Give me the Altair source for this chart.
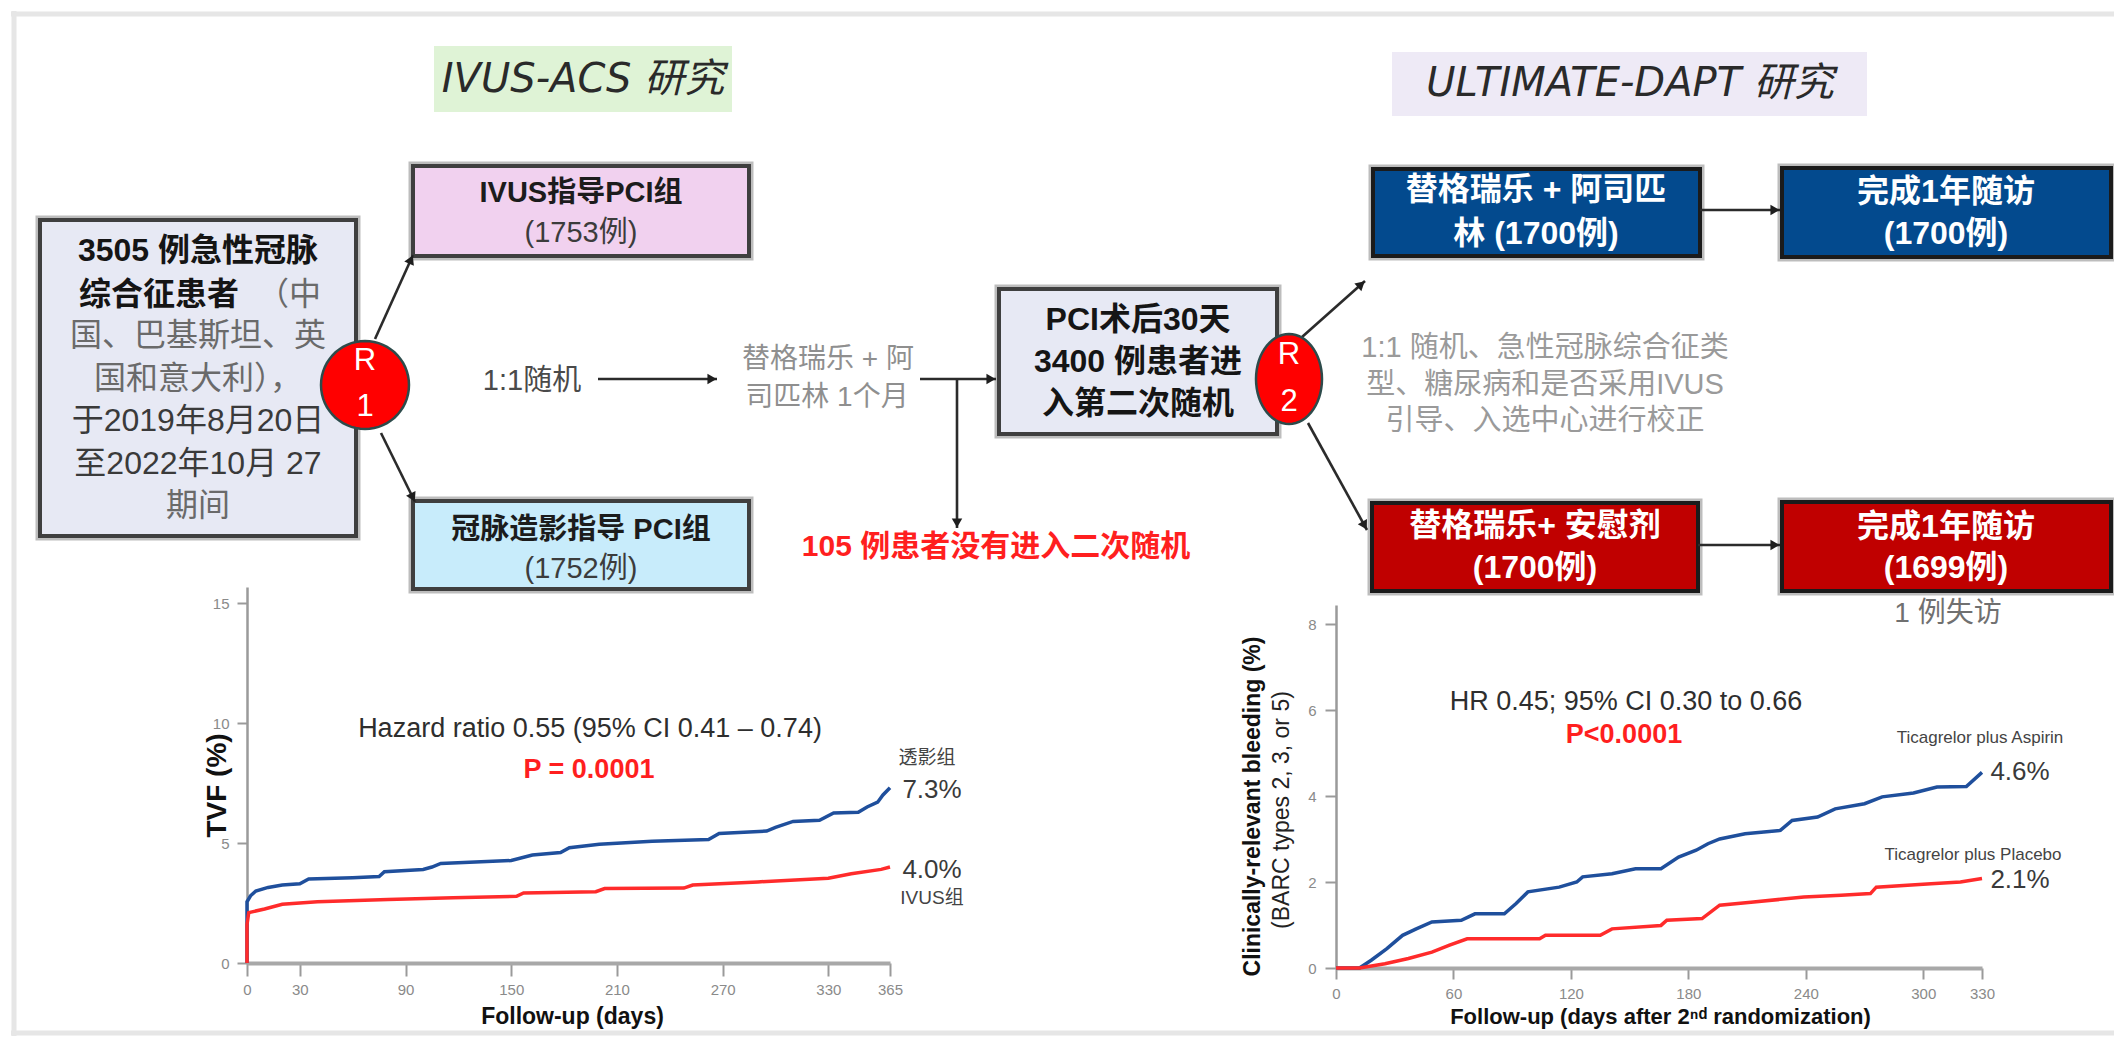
import math
import altair as alt
import pandas as pd

W, H, M = 2106, 1028, 8  # chart size, page margin

# ---------------- data: IVUS-ACS (TVF %, days) ----------------
ang_days = [0, 0, 2, 5, 12, 20, 30, 35, 60, 75, 78, 100, 105, 110, 150, 162, 178, 183, 200, 230,
            262, 268, 295, 300, 310, 325, 333, 347, 352, 358, 361, 365]
ang_tvf = [0, 2.55, 2.8, 3.0, 3.15, 3.25, 3.3, 3.5, 3.55, 3.6, 3.8, 3.9, 4.0, 4.15, 4.27, 4.5, 4.6, 4.8, 4.95, 5.07,
           5.15, 5.4, 5.5, 5.65, 5.9, 5.95, 6.25, 6.28, 6.5, 6.7, 7.0, 7.3]
ivus_days = [0, 0, 1, 10, 20, 40, 80, 117, 153, 157, 198, 203, 248, 253, 290, 330, 343, 360, 365]
ivus_tvf = [0, 1.6, 2.1, 2.25, 2.45, 2.55, 2.65, 2.72, 2.78, 2.92, 2.97, 3.1, 3.12, 3.25, 3.38, 3.53, 3.72, 3.9, 4.0]
ivus_xticks = [0, 30, 90, 150, 210, 270, 330, 365]
ivus_yticks = [0, 5, 10, 15]

# ---------------- data: ULTIMATE-DAPT (bleeding %, days) ----------------
asp_days = [0, 12, 18, 26, 34, 41, 49, 64, 71, 86, 92, 98, 114, 123, 126, 141, 153, 166, 175, 184,
            190, 196, 209, 227, 233, 246, 255, 270, 279, 295, 307, 322, 330]
asp_bleed = [0, 0, 0.18, 0.45, 0.76, 0.91, 1.07, 1.11, 1.26, 1.26, 1.5, 1.77, 1.88, 2.0, 2.12, 2.19, 2.31, 2.31, 2.58, 2.74,
             2.89, 3.0, 3.12, 3.2, 3.43, 3.51, 3.7, 3.82, 3.98, 4.07, 4.21, 4.22, 4.55]
plc_days = [0, 12, 25, 37, 49, 58, 67, 104, 107, 135, 141, 166, 169, 187, 196, 212, 239, 258, 273, 276, 304, 319, 330]
plc_bleed = [0, 0, 0.1, 0.22, 0.37, 0.53, 0.68, 0.68, 0.76, 0.76, 0.91, 0.99, 1.11, 1.15, 1.46, 1.53, 1.65, 1.69, 1.73, 1.88,
             1.96, 2.0, 2.08]
dapt_xticks = [0, 60, 120, 180, 240, 300, 330]
dapt_yticks = [0, 2, 4, 6, 8]

# ---------------- fonts / helpers ----------------
SANS = "Liberation Sans, Noto Sans CJK SC, sans-serif"
TITLEF = "DejaVu Sans, Noto Sans CJK SC, sans-serif"


def sx():
    return alt.Scale(domain=[0, 2122], range=[-M, 2122 - M], nice=False, zero=False)


def sy():
    return alt.Scale(domain=[0, 1044], range=[-M, 1044 - M], nice=False, zero=False)


def PX(f):
    return alt.X(f, type="quantitative", scale=sx(), axis=None)


def PY(f):
    return alt.Y(f, type="quantitative", scale=sy(), axis=None)


def texts(rows, size, color, weight="normal", align="center", angle=0, font=SANS, style="normal"):
    df = pd.DataFrame(rows, columns=["x", "y", "t"])
    return alt.Chart(df).mark_text(font=font, fontSize=size, fontWeight=weight, fontStyle=style,
                                   color=color, align=align, baseline="middle", angle=angle).encode(
        x=PX("x"), y=PY("y"), text="t:N")


def rules(rows, color, width):
    df = pd.DataFrame(rows, columns=["x", "y", "x2", "y2"])
    return alt.Chart(df).mark_rule(color=color, strokeWidth=width).encode(
        x=PX("x"), y=PY("y"), x2="x2", y2="y2")


layers = []

# page frame
layers.append(rules([(11, 14, 2122, 14), (14, 11, 14, 1044), (11, 1033, 2122, 1033)], "#e6e6e6", 5))

# title backgrounds
tb = pd.DataFrame([(434, 46, 732, 112, "#dff3d6"), (1392, 52, 1867, 116, "#eeeaf6")],
                  columns=["x", "y", "x2", "y2", "fill"])
layers.append(alt.Chart(tb).mark_rect().encode(x=PX("x"), y=PY("y"), x2="x2", y2="y2",
                                               fill=alt.Fill("fill:N", scale=None)))

# boxes
boxes = pd.DataFrame([
    (40, 220, 356, 536, "#e7e9f4", "#3f3f3f"),
    (413, 166, 749, 256, "#f1d1ef", "#3f3f3f"),
    (413, 501, 749, 589, "#c8ecfb", "#3f3f3f"),
    (999, 289, 1277, 434, "#e7e9f4", "#3f3f3f"),
    (1373, 169, 1700, 256, "#034a8e", "#1b1b1b"),
    (1782, 168, 2111, 257, "#034a8e", "#1b1b1b"),
    (1372, 503, 1698, 591, "#c00000", "#1b1b1b"),
    (1782, 502, 2111, 591, "#c00000", "#1b1b1b"),
], columns=["x", "y", "x2", "y2", "fill", "stroke"])
layers.append(alt.Chart(boxes).mark_rect(stroke="#bdbdbd", strokeWidth=9).encode(
    x=PX("x"), y=PY("y"), x2="x2", y2="y2", fill=alt.Fill("fill:N", scale=None)))
layers.append(alt.Chart(boxes).mark_rect(strokeWidth=4).encode(
    x=PX("x"), y=PY("y"), x2="x2", y2="y2", fill=alt.Fill("fill:N", scale=None),
    stroke=alt.Stroke("stroke:N", scale=None)))

# connector lines and arrows
arrows = [(375, 339, 413, 255), (381, 433, 415, 502), (598, 379, 717, 379), (920, 379, 996, 379),
          (957, 379, 957, 528), (1302, 337, 1365, 281), (1308, 423, 1367, 530),
          (1700, 210, 1780, 210), (1698, 545, 1780, 545)]
layers.append(rules(arrows, "#2b2b2b", 2.6))
heads = []
for x1, y1, x2, y2 in arrows:
    dx, dy = x2 - x1, y2 - y1
    L = math.hypot(dx, dy)
    heads.append((x2 - 5 * dx / L, y2 - 5 * dy / L, math.degrees(math.atan2(dx, -dy)) % 360))
hd = pd.DataFrame(heads, columns=["x", "y", "a"])
layers.append(alt.Chart(hd).mark_point(shape="triangle-up", filled=True, color="#1e1e1e", size=110, opacity=1).encode(
    x=PX("x"), y=PY("y"), angle=alt.Angle("a:Q", scale=None)))


# randomisation ellipses
def ellipse_path(rx):
    pts = [(rx * math.cos(2 * math.pi * i / 60), math.sin(2 * math.pi * i / 60)) for i in range(60)]
    return "M" + " L".join(f"{a:.4f},{b:.4f}" for a, b in pts) + " Z"


ell = pd.DataFrame([(365, 385, ellipse_path(1.0), 88 ** 2), (1289, 379, ellipse_path(33 / 45), 90 ** 2)],
                   columns=["x", "y", "shape", "size"])
layers.append(alt.Chart(ell).mark_point(filled=True, fill="#ff0000", stroke="#2d4b4b", strokeWidth=2.5, opacity=1).encode(
    x=PX("x"), y=PY("y"), shape=alt.Shape("shape:N", scale=None), size=alt.Size("size:Q", scale=None)))
layers.append(texts([(365, 361, "R"), (365, 407, "1"), (1289, 355, "R"), (1289, 402, "2")], 31, "#ffffff"))

# titles
layers.append(texts([(583, 80, "IVUS-ACS 研究"), (1630, 84, "ULTIMATE-DAPT 研究")], 40, "#2a2a2a",
                    font=TITLEF, style="italic"))

# main box text
layers.append(texts([(198, 251, "3505 例急性冠脉"), (159, 295, "综合征患者")], 32, "#151515", weight="bold"))
layers.append(texts([(257, 295, "（中")], 32, "#6a6a6a", align="left"))
layers.append(texts([(198, 336, "国、巴基斯坦、英"), (198, 379, "国和意大利），"),
                     (198, 506, "期间")], 32, "#6a6a6a"))
layers.append(texts([(198, 421, "于2019年8月20日"), (198, 464, "至2022年10月 27")], 32, "#3a3a3a"))

# group boxes
layers.append(texts([(581, 193, "IVUS指导PCI组"), (581, 530, "冠脉造影指导 PCI组")], 29, "#1c1c1c", weight="bold"))
layers.append(texts([(581, 233, "(1753例)"), (581, 569, "(1752例)")], 29, "#3c3c3c"))

# PCI box
layers.append(texts([(1138, 320, "PCI术后30天"), (1138, 362, "3400 例患者进"), (1138, 404, "入第二次随机")],
                    32, "#151515", weight="bold"))

# right coloured boxes
layers.append(texts([(1536, 190, "替格瑞乐 + 阿司匹"), (1536, 234, "林 (1700例)"),
                     (1946, 192, "完成1年随访"), (1946, 234, "(1700例)"),
                     (1535, 526, "替格瑞乐+ 安慰剂"), (1535, 568, "(1700例)"),
                     (1946, 527, "完成1年随访"), (1946, 568, "(1699例)")], 32, "#ffffff", weight="bold"))

# flow annotations
layers.append(texts([(532, 381, "1:1随机")], 29, "#4a4a4a"))
layers.append(texts([(828, 360, "替格瑞乐 + 阿"), (827, 398, "司匹林 1个月")], 28, "#8f8f8f"))
layers.append(texts([(996, 547, "105 例患者没有进入二次随机")], 30, "#ff1f1f", weight="bold"))
layers.append(texts([(1545, 348, "1:1 随机、急性冠脉综合征类"), (1545, 385, "型、糖尿病和是否采用IVUS"),
                     (1545, 421, "引导、入选中心进行校正")], 29, "#9a9a9a"))
layers.append(texts([(1948, 614, "1 例失访")], 28, "#707070"))

# ---------------- Kaplan-Meier panels ----------------
AX = dict(labelFont="Liberation Sans", labelFontSize=15, labelColor="#8a8a8a", tickColor="#9a9a9a",
          tickWidth=2, labelOverlap=False, labelFlush=False, grid=False, titleFont=SANS,
          titleFontWeight="bold", titleColor="#111111", titleAlign="center", titleBaseline="middle")

left_df = pd.DataFrame({
    "day": ang_days + ivus_days,
    "pct": ang_tvf + ivus_tvf,
    "grp": ["透影组"] * len(ang_days) + ["IVUS组"] * len(ivus_days),
})
left_df["i"] = range(len(left_df))
left_x0, left_x1, left_y0, left_ytop = 247, 890, 963, 587
km_left = alt.Chart(left_df).mark_line(strokeWidth=3.5).encode(
    x=alt.X("day:Q", scale=alt.Scale(domain=[0, 365], range=[left_x0 - M, left_x1 - M], nice=False, zero=False),
            axis=alt.Axis(orient="bottom", offset=(left_y0 - M) - H, values=ivus_xticks, tickSize=13,
                          labelPadding=6, domainColor="#a8a8a8", domainWidth=4, title="Follow-up (days)",
                          titleFontSize=23, titleX=572 - M, titleY=1016 - left_y0, titleAngle=0, **AX)),
    y=alt.Y("pct:Q", scale=alt.Scale(domain=[0, (left_y0 - left_ytop) / 24.0], range=[left_y0 - M, left_ytop - M],
                                     nice=False, zero=False),
            axis=alt.Axis(orient="left", offset=-(left_x0 - M), values=ivus_yticks, tickSize=10, labelPadding=8,
                          domainColor="#9a9a9a", domainWidth=2.5, title="TVF (%)", titleFontSize=28,
                          titleX=217 - left_x0, titleY=785 - M, titleAngle=270, **AX)),
    color=alt.Color("grp:N", scale=alt.Scale(domain=["透影组", "IVUS组"], range=["#1f4f9c", "#ff2b2b"]), legend=None),
    order="i:Q",
)
layers.append(km_left)

right_df = pd.DataFrame({
    "day": asp_days + plc_days,
    "pct": asp_bleed + plc_bleed,
    "grp": ["Ticagrelor plus Aspirin"] * len(asp_days) + ["Ticagrelor plus Placebo"] * len(plc_days),
})
right_df["i"] = range(len(right_df))
r_x0, r_x1, r_y0, r_ytop = 1336, 1982, 968, 605
km_right = alt.Chart(right_df).mark_line(strokeWidth=3.5).encode(
    x=alt.X("day:Q", scale=alt.Scale(domain=[0, 330], range=[r_x0 - M, r_x1 - M], nice=False, zero=False),
            axis=alt.Axis(orient="bottom", offset=(r_y0 - M) - H, values=dapt_xticks, tickSize=11,
                          labelPadding=7, domainColor="#a8a8a8", domainWidth=4,
                          title="Follow-up (days after 2ⁿᵈ randomization)",
                          titleFontSize=22, titleX=1660 - M, titleY=1016 - r_y0, titleAngle=0, **AX)),
    y=alt.Y("pct:Q", scale=alt.Scale(domain=[0, (r_y0 - r_ytop) / 43.0], range=[r_y0 - M, r_ytop - M],
                                     nice=False, zero=False),
            axis=alt.Axis(orient="left", offset=-(r_x0 - M), values=dapt_yticks, tickSize=11, labelPadding=9,
                          domainColor="#9a9a9a", domainWidth=2.5, title="Clinically-relevant bleeding (%)",
                          titleFontSize=23, titleX=1252 - r_x0, titleY=806 - M, titleAngle=270, **AX)),
    color=alt.Color("grp:N", scale=alt.Scale(domain=["Ticagrelor plus Aspirin", "Ticagrelor plus Placebo"],
                                             range=["#1f4f9c", "#ff2b2b"]), legend=None),
    order="i:Q",
)
layers.append(km_right)

# KM annotations
layers.append(texts([(1282, 810, "(BARC types 2, 3, or 5)")], 23, "#222222", angle=270))
layers.append(texts([(590, 729, "Hazard ratio 0.55 (95% CI 0.41 – 0.74)"),
                     (1626, 702, "HR 0.45; 95% CI 0.30 to 0.66")], 27, "#2e2e2e"))
layers.append(texts([(589, 770, "P = 0.0001"), (1624, 735, "P<0.0001")], 27, "#ff1f1f", weight="bold"))
layers.append(texts([(932, 790, "7.3%"), (932, 870, "4.0%"), (2020, 772, "4.6%"), (2020, 880, "2.1%")], 26, "#3a3a3a"))
layers.append(texts([(927, 758, "透影组"), (932, 898, "IVUS组")], 19, "#444444"))
layers.append(texts([(1980, 738, "Ticagrelor plus Aspirin"), (1973, 855, "Ticagrelor plus Placebo")], 17, "#444444"))

chart = alt.layer(*layers).properties(
    width=W, height=H, padding=0, autosize=alt.AutoSizeParams(type="none"), background="white"
).resolve_scale(x="independent", y="independent", color="independent").configure_view(stroke=None)

chart.save("out.html", embed_options={"renderer": "svg", "actions": False})
